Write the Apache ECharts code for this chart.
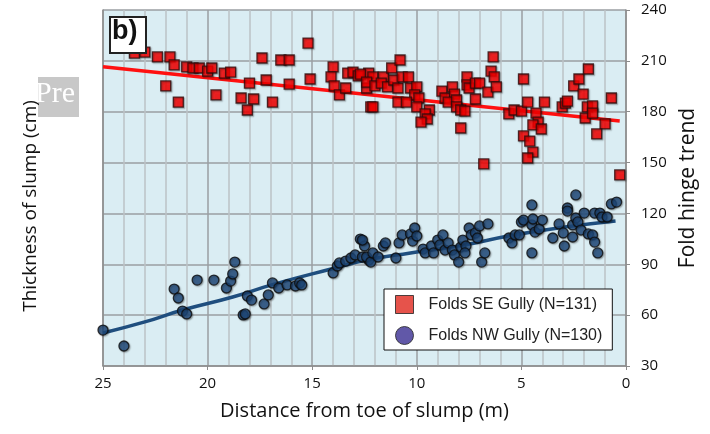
<!DOCTYPE html>
<html>
<head>
<meta charset="utf-8">
<script src="https://cdn.jsdelivr.net/npm/echarts@6/dist/echarts.min.js"></script>
<style>
  html, body { margin: 0; padding: 0; background: #fff; }
  #chart { width: 710px; height: 434px; }
</style>
</head>
<body>
<div id="chart"></div>
<script>
// distance from toe (m), fold hinge trend (deg)
var seGully = [
  [23.5,214.6],[23.0,215.2],[22.4,212.3],[21.8,212.3],[21.6,207.6],[21.0,206.4],[20.7,205.8],[20.4,205.8],
  [20.0,204.0],[19.8,205.8],[19.2,202.8],[18.9,203.4],[22.0,195.2],[21.4,185.7],[19.6,189.9],[18.4,188.1],
  [17.8,187.5],[18.1,181.0],[18.0,196.9],[17.4,211.7],[17.2,198.7],[16.9,185.7],[16.5,210.5],[16.1,210.5],
  [16.1,196.3],[15.2,220.5],[15.1,199.3],[14.0,206.4],[14.1,200.5],[13.95,195.2],[13.7,189.9],[13.4,194.0],
  [13.3,202.8],[13.05,203.4],[12.8,201.1],[12.4,194.0],[12.3,202.8],[12.2,182.8],
  [12.7,202.2],[12.1,200.5],[12.4,197.5],[12.0,195.2],[11.6,200.5],[11.7,196.9],[11.4,194.6],[11.1,198.7],
  [11.2,205.8],[10.8,210.5],[10.9,194.0],[10.7,200.5],[10.4,200.5],[10.3,194.0],[10.0,194.6],[10.1,189.9],
  [9.9,188.1],[12.1,182.8],[10.9,185.7],[10.5,185.7],[10.0,182.8],[9.4,181.0],[9.6,178.7],[9.5,175.7],
  [9.8,173.9],[8.8,192.2],[8.65,188.1],[8.3,194.6],[8.2,190.4],[8.5,185.7],[8.1,186.9],[8.1,182.8],
  [7.9,181.0],[7.7,180.4],[7.9,170.4],[7.6,200.5],[7.6,195.8],[7.5,194.0],[7.2,196.9],[7.0,196.9],
  [6.6,191.6],[7.2,187.5],[6.45,204.0],[6.35,212.3],[6.3,200.5],[6.2,194.6],[6.8,149.2],[5.6,178.7],
  [5.35,181.0],[5.0,180.4],[4.9,199.3],[4.7,185.7],[4.3,179.2],[4.2,173.9],[4.45,172.2],[4.05,169.8],
  [4.9,165.7],[4.6,162.7],[4.45,156.2],[4.7,152.7],[3.9,185.7],[3.05,182.8],[2.9,185.1],[2.8,186.3],
  [2.5,195.2],[2.25,199.3],[1.8,205.2],[2.05,190.4],[1.85,182.8],[1.6,183.4],[1.95,176.3],[1.6,179.2],
  [1.0,172.8],[1.4,166.9],[0.7,188.1],[0.3,142.7]
];
var nwGully = [
  [25.0,51.2],[24.0,41.8],[21.6,75.4],[21.4,70.1],[21.2,62.4],[21.0,60.7],[20.5,80.7],[19.7,80.7],
  [19.1,76.0],[18.9,80.1],[18.8,84.3],[18.7,91.3],[18.3,60.1],[18.2,60.7],[18.1,71.3],[17.9,68.9],
  [17.3,66.6],[17.1,71.9],[16.9,79.0],[16.6,76.0],[16.2,77.8],[15.8,77.2],[15.6,79.0],[15.5,77.8],
  [14.0,84.9],[13.8,89.0],[13.7,90.8],[13.4,91.9],[13.15,93.7],[12.95,95.5],[12.7,104.9],[12.5,100.8],
  [12.3,92.5],[12.6,104.3],[12.6,94.3],[12.4,94.3],[12.2,91.3],[12.1,96.7],[11.85,94.3],[11.6,100.8],
  [11.5,102.6],[11.0,93.7],[10.85,102.6],[10.7,107.3],[10.3,107.9],[10.2,103.7],[10.1,111.4],[10.0,106.7],
  [9.7,99.0],[9.6,96.7],[9.3,100.8],[9.2,96.7],[9.0,104.3],[8.9,101.4],[8.75,107.3],[8.65,98.4],
  [8.5,102.6],[8.3,98.4],[8.2,95.5],[8.0,91.3],[7.9,100.2],[7.8,104.3],[7.65,100.8],[7.7,96.7],
  [7.5,111.4],[7.4,107.3],[7.2,108.5],[7.0,112.6],[7.1,105.5],[6.9,91.3],[6.75,96.7],[6.6,113.8],
  [5.6,105.5],[5.45,102.6],[5.3,107.3],[5.1,107.3],[5.0,114.9],[4.9,116.1],[4.5,125.0],[4.5,113.2],
  [4.45,116.7],[4.35,109.0],[4.5,96.7],[4.15,110.8],[4.0,116.1],[3.5,105.5],[3.2,113.8],[3.0,108.5],
  [2.95,100.8],[2.8,123.2],[2.8,121.4],[2.55,106.1],[2.55,113.2],[2.4,117.3],[2.4,130.9],[2.3,115.0],
  [2.15,110.2],[2.0,120.2],[1.8,107.9],[1.6,107.3],[1.5,103.1],[1.35,96.7],[1.5,120.2],[1.25,120.2],
  [1.15,117.9],[0.9,117.9],[0.7,125.6],[0.45,126.7]
];
var seTrend = [[25,206.5],[0.3,174.5]];
var nwTrend = [[25,49.5],[23,56],[21.2,63],[18.8,70.7],[16.9,78],[14,87.5],[12.4,92.5],[10.3,96.7],
  [7.9,101],[5.5,107],[3.2,111.5],[0.5,115.5]];
var xTicks = [0, 25, 5];
var yTicks = [30, 240, 30];

var chart = echarts.init(document.getElementById('chart'));
var font = 'Open Sans';

var option = {
  animation: false,
  backgroundColor: '#fff',
  grid: { left: 103, right: 84, top: 10, bottom: 68, show: true, backgroundColor: '#daedf3', borderWidth: 0 },
  xAxis: {
    type: 'value', inverse: true,
    min: xTicks[0], max: xTicks[1], interval: xTicks[2],
    name: 'Distance from toe of slump (m)', nameLocation: 'middle', nameGap: 35,
    nameTextStyle: { fontFamily: font, fontSize: 20, color: '#111' },
    axisLine: { lineStyle: { color: '#8c8c8c', width: 1.5 } },
    axisTick: { show: true, length: 4, lineStyle: { color: '#8c8c8c' } },
    axisLabel: { fontFamily: font, fontSize: 15, color: '#111', margin: 10 },
    splitLine: { show: true, lineStyle: { color: '#9a9ea2', width: 1.5 } },
    minorTick: { show: false, splitNumber: 5 },
    minorSplitLine: { show: true, lineStyle: { color: '#bcc2c6', width: 1.5 } }
  },
  yAxis: [{
    type: 'value', position: 'right',
    min: yTicks[0], max: yTicks[1], interval: yTicks[2],
    name: 'Fold hinge trend', nameLocation: 'middle', nameGap: 47, nameRotate: 90,
    nameTextStyle: { fontFamily: font, fontSize: 21, color: '#111' },
    axisLine: { show: true, lineStyle: { color: '#8c8c8c', width: 1.5 } },
    axisTick: { show: true, length: 4, lineStyle: { color: '#8c8c8c' } },
    axisLabel: { fontFamily: font, fontSize: 15, color: '#111', margin: 15 },
    splitLine: { show: true, lineStyle: { color: '#9a9ea2', width: 1.5 } }
  }, {
    type: 'value', position: 'left',
    min: yTicks[0], max: yTicks[1],
    name: 'Thickness of slump (cm)', nameLocation: 'middle', nameGap: 63,
    nameTextStyle: { fontFamily: font, fontSize: 19, color: '#111', padding: [0, 36, 0, 0] },
    axisLine: { show: true, lineStyle: { color: '#8c8c8c', width: 1.5 } },
    axisTick: { show: false }, axisLabel: { show: false }, splitLine: { show: false }
  }],
  legend: {
    orient: 'vertical', left: 384, top: 289,
    padding: [6, 10, 5, 11], itemGap: 12, itemWidth: 18, itemHeight: 18,
    backgroundColor: '#fff', borderColor: '#111', borderWidth: 1,
    textStyle: { fontFamily: 'Liberation Sans', fontSize: 16, color: '#222', padding: [0, 0, 0, 10] },
    data: [
      { name: 'Folds SE Gully (N=131)', icon: 'rect', itemStyle: { color: '#e0281e', borderColor: '#222', borderWidth: 1 } },
      { name: 'Folds NW Gully (N=130)', icon: 'circle', itemStyle: { color: '#3a2e92', borderColor: '#222', borderWidth: 1 } }
    ]
  },
  graphic: [
    { type: 'rect', left: 38, top: 77, shape: { width: 41, height: 40 }, style: { fill: '#c8c8c8' } },
    { type: 'text', left: 35, top: 79, style: { text: 'Pre', fill: '#fff', font: '30px "Liberation Serif"' } },
    { type: 'rect', left: 109, top: 16, z: 10, shape: { width: 36, height: 36 }, style: { fill: '#fff', stroke: '#222', lineWidth: 2 } },
    { type: 'text', left: 112, top: 18, z: 11, style: { text: 'b)', fill: '#111', font: 'bold 27px "Liberation Sans"' } }
  ],
  series: [{
    name: 'SE trend', type: 'line', data: seTrend, z: 1,
    symbol: 'none', lineStyle: { color: '#ff1010', width: 3.5 }, silent: true
  }, {
    name: 'NW trend', type: 'line', data: nwTrend, z: 1, smooth: true,
    symbol: 'none', lineStyle: { color: '#1f4e7e', width: 3.5 }, silent: true
  }, {
    name: 'Folds SE Gully (N=131)', type: 'scatter', data: seGully, z: 3,
    symbol: 'rect', symbolSize: 10,
    itemStyle: { color: '#ff0000', borderColor: '#2a0a0a', borderWidth: 1.3,
      shadowColor: 'rgba(0,0,0,0.45)', shadowBlur: 1.5, shadowOffsetX: 1, shadowOffsetY: 1 }
  }, {
    name: 'Folds NW Gully (N=130)', type: 'scatter', data: nwGully, z: 3,
    symbol: 'circle', symbolSize: 10,
    itemStyle: { color: '#1f4a7c', borderColor: '#0d0d0d', borderWidth: 1.3,
      shadowColor: 'rgba(0,0,0,0.35)', shadowBlur: 1.5, shadowOffsetX: 1, shadowOffsetY: 1 }
  }]
};
chart.setOption(option);
</script>
</body>
</html>
